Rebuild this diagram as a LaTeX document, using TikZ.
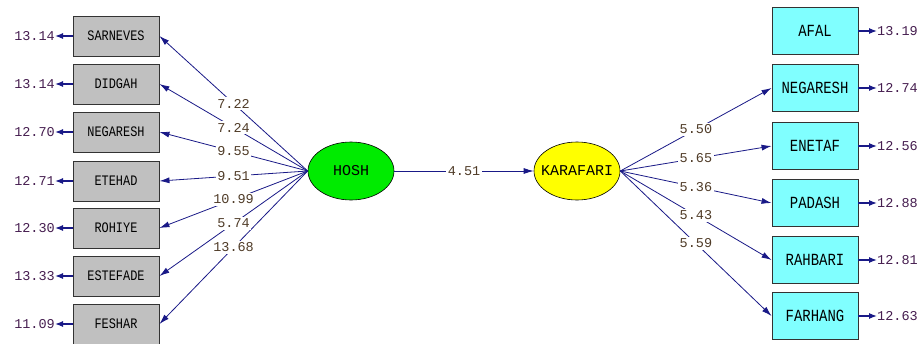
\documentclass[tikz,border=0pt]{standalone}
\usepackage{fontspec}
\usetikzlibrary{arrows.meta,shapes.geometric,calc}
\newfontfamily\boxfont[FakeStretch=0.82]{Liberation Mono}
\newfontfamily\numfont{Liberation Mono}
\definecolor{pathblue}{RGB}{25,25,135}
\definecolor{errtext}{RGB}{70,30,80}
\definecolor{labtext}{RGB}{80,60,40}
\definecolor{boxgray}{RGB}{192,192,192}
\definecolor{boxcyan}{RGB}{128,255,255}
\definecolor{latgreen}{RGB}{0,235,0}
\definecolor{latyellow}{RGB}{255,255,0}
\tikzset{
  leftbox/.style={draw=black!80, line width=0.9pt, fill=boxgray, minimum width=86pt, minimum height=40pt, inner sep=0pt, font=\boxfont\fontsize{14.5}{14.5}\selectfont},
  rightbox/.style={draw=black!80, line width=0.9pt, fill=boxcyan, minimum width=86pt, minimum height=47pt, inner sep=0pt, font=\boxfont\fontsize{17}{17}\selectfont},
  latent/.style={ellipse, draw=black, line width=0.6pt, minimum width=86pt, minimum height=58pt, inner sep=0pt, font=\numfont\fontsize{15}{15}\selectfont},
  errnum/.style={text=errtext, inner sep=0pt, font=\numfont\fontsize{13.5}{13.5}\selectfont},
  loadlab/.style={text=labtext, fill=white, inner sep=1.5pt, font=\numfont\fontsize{13.5}{13.5}\selectfont},
  loadpath/.style={draw=pathblue, line width=0.8pt, -{Latex[length=10pt,width=6pt]}},
  errpath/.style={draw=pathblue, line width=1.3pt, -{Latex[length=8pt,width=6pt]}}
}
\begin{document}
\begin{tikzpicture}[x=1pt,y=-1pt]
\useasboundingbox (0,0) rectangle (924,343);
\fill[white] (0,0) rectangle (924,343);

% latent variables
\node[latent, fill=latgreen] (hosh) at (351,171) {\makebox[0pt][c]{HOSH}};
\node[latent, fill=latyellow] (kara) at (577,171) {\makebox[0pt][c]{KARAFARI}};

% left indicators
\foreach \nm/\txt/\yy/\err in {
  l1/SARNEVES/36/13.14, l2/DIDGAH/84/13.14, l3/NEGARESH/132/12.70,
  l4/ETEHAD/181/12.71, l5/ROHIYE/228/12.30, l6/ESTEFADE/276/13.33,
  l7/FESHAR/324/11.09} {
  \node[leftbox] (\nm) at (116,\yy) {\txt};
  \node[errnum, anchor=east] (e\nm) at (55,\yy) {\err};
  \draw[errpath] (\nm.west) -- (e\nm.east);
}

% right indicators
\foreach \nm/\txt/\yy/\err in {
  r0/AFAL/31/13.19, r1/NEGARESH/88/12.74, r2/ENETAF/146/12.56,
  r3/PADASH/203/12.88, r4/RAHBARI/260/12.81, r5/FARHANG/316/12.63} {
  \node[rightbox] (\nm) at (815,\yy) {\txt};
  \node[errnum, anchor=west] (e\nm) at (877,\yy) {\err};
  \draw[errpath] (\nm.east) -- (e\nm.west);
}

% structural path
\draw[loadpath] (hosh.east) -- (kara.west);
\node[loadlab] at ($(hosh.east)!0.5!(kara.west)$) {4.51};

% loading paths
\foreach \nm in {l1,l2,l3,l4,l5,l6,l7}
  \draw[loadpath] (hosh.west) -- (\nm.east);
\foreach \nm in {r1,r2,r3,r4,r5}
  \draw[loadpath] (kara.east) -- (\nm.west);

% loading labels
\foreach \nm/\val in {l1/7.22, l2/7.24, l3/9.55, l4/9.51, l5/10.99, l6/5.74, l7/13.68}
  \node[loadlab] at ($(hosh.west)!0.5!(\nm.east)$) {\val};
\foreach \nm/\val in {r1/5.50, r2/5.65, r3/5.36, r4/5.43, r5/5.59}
  \node[loadlab] at ($(kara.east)!0.5!(\nm.west)$) {\val};
\end{tikzpicture}
\end{document}
